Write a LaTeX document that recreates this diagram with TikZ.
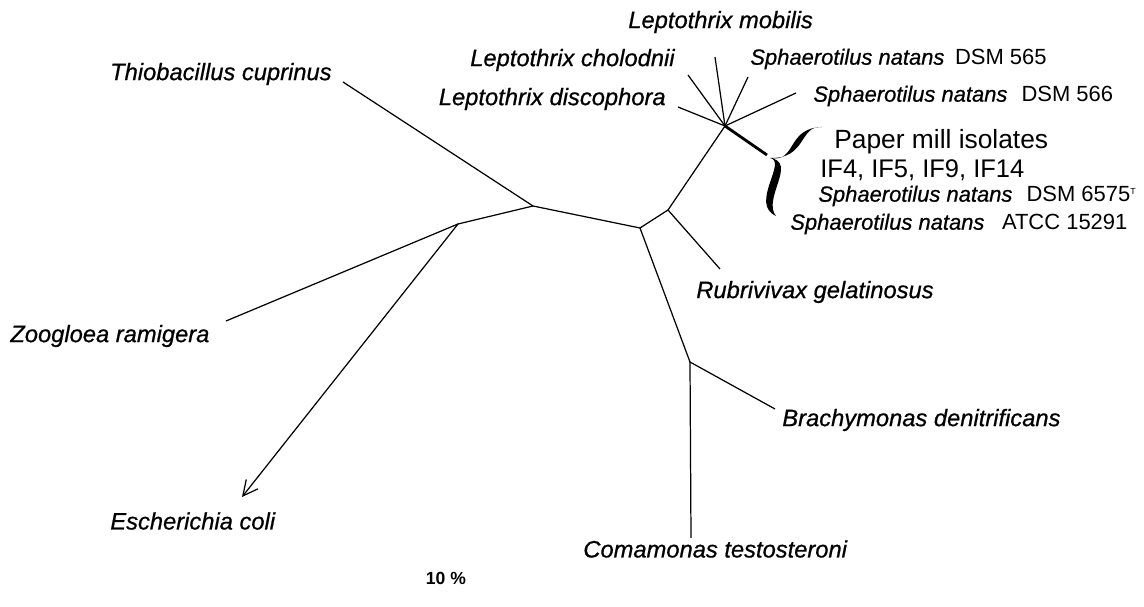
\documentclass[tikz,border=0pt]{standalone}
\usepackage{fontspec}
\setmainfont{Liberation Sans}
\newfontfamily\taxonfont{Liberation Sans}[ItalicFeatures={FakeBold=0.7}]
\usetikzlibrary{arrows.meta}
\tikzstyle{branch}=[line width=0.7pt]
\tikzstyle{taxon}=[inner sep=0pt, font=\fontsize{13.5}{16}\taxonfont\itshape]
\tikzstyle{strain}=[inner sep=0pt, anchor=west, font=\fontsize{12.5}{15}\taxonfont\itshape]
\tikzstyle{isolate}=[inner sep=0pt, anchor=west, font=\fontsize{15}{18}\selectfont]
\newcommand{\taxon}{\node[taxon]}
\newcommand{\fork}{\coordinate}

\begin{document}
\begin{tikzpicture}[x=0.02cm, y=-0.02cm,
    every edge/.style={draw, branch}
]
\useasboundingbox (0,0) rectangle (1144,607);
\fork (root) at (533,206);
\fork (zf) at (458,224);
\fork (bf) at (640,228);
\fork (lf) at (668,210);
\fork (cf) at (690,362);
\fork (star) at (725,126);
\fork (tThio) at (343,82);
\fork (tZoo) at (226,321);
\fork (tEcoli) at (242,497);
\fork (tRubri) at (720,269);
\fork (tBrachy) at (775,409);
\fork (tComa) at (691,538);
\fork (tDisco) at (678,107);
\fork (tCholo) at (688,75);
\fork (tMobil) at (715,57);
\fork (t565) at (748,77);
\fork (t566) at (796,93);
\fork (tMill) at (767,155);
\taxon[anchor=east] (thio) at (332,74) {Thiobacillus cuprinus};
\taxon[anchor=east] (disco) at (666,99) {Leptothrix discophora};
\taxon[anchor=east] (cholo) at (675,60) {Leptothrix cholodnii};
\taxon[anchor=west] (mobil) at (628,22) {Leptothrix mobilis};
\node[strain] (s565) at (750,59) {Sphaerotilus natans\hspace{6pt}\upshape DSM 565};
\node[strain] (s566) at (813,96) {Sphaerotilus natans\hspace{8pt}\upshape DSM 566};
\node[isolate] (mill) at (834,142) {Paper mill isolates};
\node[isolate, font=\fontsize{14.5}{17}\selectfont] (ifs) at (820,170) {IF4, IF5, IF9, IF14};
\node[strain] (s6575) at (818,196) {Sphaerotilus natans\hspace{8pt}\upshape DSM 6575\textsuperscript{\tiny T}};
\node[strain] (atcc) at (790,224) {Sphaerotilus natans\hspace{10pt}\upshape ATCC 15291};
\taxon[anchor=west] (rubri) at (696,292) {Rubrivivax gelatinosus};
\taxon[anchor=west] (zoo) at (10,336) {Zoogloea ramigera};
\taxon[anchor=west] (brachy) at (782,420) {Brachymonas denitrificans};
\taxon[anchor=west] (ecoli) at (110,521) {Escherichia coli};
\taxon[anchor=west] (coma) at (583,549) {Comamonas testosteroni};
\node[inner sep=0pt, font=\bfseries\fontsize{10}{12}\selectfont] (scale) at (446,578) {10 \%};
\path
(root) edge (tThio)
(root) edge (zf)
(root) edge (bf)
(zf) edge (tZoo)
(bf) edge (lf)
(bf) edge (cf)
(lf) edge (tRubri)
(lf) edge (star)
(cf) edge (tBrachy)
(cf) edge (tComa)
(star) edge (tDisco)
(star) edge (tCholo)
(star) edge (tMobil)
(star) edge (t565)
(star) edge (t566)
(star) edge[line width=1.6pt] (tMill)
;
\draw[branch, -{Straight Barb[length=3mm, width=3mm]}] (zf) -- (tEcoli);
\fill (770,158) .. controls (797,163) and (786,128) .. (822,127)
  .. controls (799,125) and (807,159) .. (770,158)
  .. controls (788,161) and (749,204) .. (776,216)
  .. controls (762,199) and (798,162) .. (770,158);
\end{tikzpicture}
\end{document}
